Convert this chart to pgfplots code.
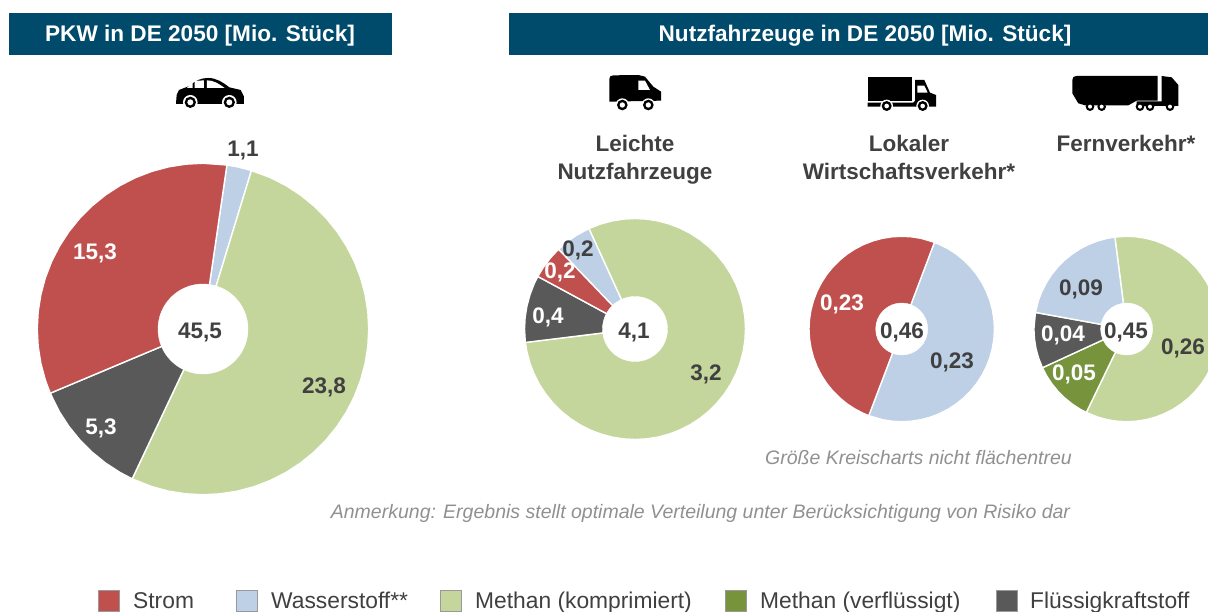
\documentclass[border=0pt]{standalone}
\usepackage{pgfplots}
\pgfplotsset{compat=1.18}
\usepackage{fontspec}
\setmainfont{Liberation Sans}
\definecolor{hdr}{HTML}{004A6C}
\definecolor{cRed}{HTML}{C0504D}
\definecolor{cBlue}{HTML}{BDD0E6}
\definecolor{cGreen}{HTML}{C4D69B}
\definecolor{cOlive}{HTML}{77933C}
\definecolor{cDark}{HTML}{595959}
\definecolor{txt}{HTML}{404040}
\definecolor{note}{HTML}{909090}
\pgfplotsset{
  pie/.style={scale only axis, hide axis, clip=false,
    width=2*#1*1.0045pt, height=2*#1*1.0045pt,
    xmin=-#1, xmax=#1, ymin=-#1, ymax=#1},
  wedge/.style={data cs=polar, fill=#1, draw=white, line width=1.4pt, line join=miter, mark=none, solid},
  hole/.style={only marks, mark=*, mark size=#1pt, mark options={fill=white, draw=white}, forget plot},
}
% value label: the y given is the centre of the digits
\newcommand{\V}[4][txt]{\node[anchor=base, text=#1, font=\fontsize{22.5}{24}\selectfont\bfseries, inner sep=0pt] at (#2,#3+8) {#4};}
\newcommand{\LG}[4]{\fill[#1, draw=gray!80, line width=.8pt] (#2,590.5) rectangle ++(21,21);
  \node[anchor=base west, text=txt, inner sep=0pt, font=\fontsize{22.8}{24}\selectfont] at (#3,608.5) {#4};}
\begin{document}
\begin{tikzpicture}[x=1pt,y=-1pt]
\path[use as bounding box] (0,0) rectangle (1208,612);
\coordinate (pA) at (203,329);
\coordinate (pB) at (635,329);
\coordinate (pC) at (901.7,329);
\coordinate (pD) at (1030.2,329);
% ---- headers
\fill[hdr] (9,13) rectangle (392,55);
\fill[hdr] (509,13) rectangle (1208,55);
\node[anchor=base,text=white,font=\fontsize{22.6}{24}\selectfont\bfseries,inner sep=0pt] at (200,41.7) {PKW in DE 2050 [Mio. Stück]};
\node[anchor=base,text=white,font=\fontsize{22.6}{24}\selectfont\bfseries,inner sep=0pt] at (865,41.7) {Nutzfahrzeuge in DE 2050 [Mio. Stück]};
% ---- PKW pie
\begin{axis}[pie=170, at={(pA)}, anchor=center]
\addplot[wedge=cBlue] coordinates {(0,0)(81.7,165)(78,165)(73,165)} --cycle;
\addplot[wedge=cGreen] coordinates {(0,0)(73,165)(66,165)(60,165)(54,165)(48,165)(42,165)(36,165)(30,165)(24,165)(18,165)(12,165)(6,165)(0,165)(-6,165)(-12,165)(-18,165)(-24,165)(-30,165)(-36,165)(-42,165)(-48,165)(-54,165)(-60,165)(-66,165)(-72,165)(-78,165)(-84,165)(-90,165)(-96,165)(-102,165)(-108,165)(-115.3,165)} --cycle;
\addplot[wedge=cDark] coordinates {(0,0)(-115.3,165)(-120,165)(-126,165)(-132,165)(-138,165)(-144,165)(-150,165)(-157.2,165)} --cycle;
\addplot[wedge=cRed] coordinates {(0,0)(-157.2,165)(-162,165)(-168,165)(-174,165)(-180,165)(-186,165)(-192,165)(-198,165)(-204,165)(-210,165)(-216,165)(-222,165)(-228,165)(-234,165)(-240,165)(-246,165)(-252,165)(-258,165)(-264,165)(-270,165)(-278.3,165)} --cycle;
\addplot[hole=45] coordinates {(0,0)};
\end{axis}
% ---- LNF pie
\begin{axis}[pie=115, at={(pB)}, anchor=center]
\addplot[wedge=cBlue] coordinates {(0,0)(133.8,110)(128,110)(122,110)(114.6,110)} --cycle;
\addplot[wedge=cGreen] coordinates {(0,0)(114.6,110)(108,110)(102,110)(96,110)(90,110)(84,110)(78,110)(72,110)(66,110)(60,110)(54,110)(48,110)(42,110)(36,110)(30,110)(24,110)(18,110)(12,110)(6,110)(0,110)(-6,110)(-12,110)(-18,110)(-24,110)(-30,110)(-36,110)(-42,110)(-48,110)(-54,110)(-60,110)(-66,110)(-72,110)(-78,110)(-84,110)(-90,110)(-96,110)(-102,110)(-108,110)(-114,110)(-120,110)(-126,110)(-132,110)(-138,110)(-144,110)(-150,110)(-156,110)(-162,110)(-168,110)(-173,110)} --cycle;
\addplot[wedge=cDark] coordinates {(0,0)(-173,110)(-180,110)(-186,110)(-192,110)(-198,110)(-204,110)(-208.4,110)} --cycle;
\addplot[wedge=cRed] coordinates {(0,0)(151.6,110)(146,110)(140,110)(133.8,110)} --cycle;
\addplot[hole=32.5] coordinates {(0,0)};
\end{axis}
% ---- Lokaler pie
\begin{axis}[pie=97, at={(pC)}, anchor=center]
\addplot[wedge=cBlue] coordinates {(0,0)(69.3,92.3)(66,92.3)(60,92.3)(54,92.3)(48,92.3)(42,92.3)(36,92.3)(30,92.3)(24,92.3)(18,92.3)(12,92.3)(6,92.3)(0,92.3)(-6,92.3)(-12,92.3)(-18,92.3)(-24,92.3)(-30,92.3)(-36,92.3)(-42,92.3)(-48,92.3)(-54,92.3)(-60,92.3)(-66,92.3)(-72,92.3)(-78,92.3)(-84,92.3)(-90,92.3)(-96,92.3)(-102,92.3)(-110.8,92.3)} --cycle;
\addplot[wedge=cRed] coordinates {(0,0)(-110.8,92.3)(-114,92.3)(-120,92.3)(-126,92.3)(-132,92.3)(-138,92.3)(-144,92.3)(-150,92.3)(-156,92.3)(-162,92.3)(-168,92.3)(-174,92.3)(-180,92.3)(-186,92.3)(-192,92.3)(-198,92.3)(-204,92.3)(-210,92.3)(-216,92.3)(-222,92.3)(-228,92.3)(-234,92.3)(-240,92.3)(-246,92.3)(-252,92.3)(-258,92.3)(-264,92.3)(-270,92.3)(-276,92.3)(-282,92.3)(-290.7,92.3)} --cycle;
\addplot[hole=26] coordinates {(0,0)};
\end{axis}
% ---- Fernverkehr pie (cut by the page edge)
\begin{axis}[scale only axis, hide axis, clip=true, width=177.8pt, height=194.9pt,
  xmin=-96, xmax=81, ymin=-97, ymax=97, at={(pD)}, anchor=west]
\addplot[wedge=cGreen] coordinates {(0,0)(97.3,92.3)(90,92.3)(84,92.3)(78,92.3)(72,92.3)(66,92.3)(60,92.3)(54,92.3)(48,92.3)(42,92.3)(36,92.3)(30,92.3)(24,92.3)(18,92.3)(12,92.3)(6,92.3)(0,92.3)(-6,92.3)(-12,92.3)(-18,92.3)(-24,92.3)(-30,92.3)(-36,92.3)(-42,92.3)(-48,92.3)(-54,92.3)(-60,92.3)(-66,92.3)(-72,92.3)(-78,92.3)(-84,92.3)(-90,92.3)(-96,92.3)(-102,92.3)(-108,92.3)(-115.8,92.3)} --cycle;
\addplot[wedge=cOlive] coordinates {(0,0)(-115.8,92.3)(-120,92.3)(-126,92.3)(-132,92.3)(-138,92.3)(-144,92.3)(-150,92.3)(-155.3,92.3)} --cycle;
\addplot[wedge=cDark] coordinates {(0,0)(-155.3,92.3)(-162,92.3)(-168,92.3)(-174,92.3)(-180,92.3)(-190.3,92.3)} --cycle;
\addplot[wedge=cBlue] coordinates {(0,0)(169.7,92.3)(162,92.3)(156,92.3)(150,92.3)(144,92.3)(138,92.3)(132,92.3)(126,92.3)(120,92.3)(114,92.3)(108,92.3)(102,92.3)(97.3,92.3)} --cycle;
\addplot[hole=26] coordinates {(0,0)};
\end{axis}
% ---- value labels
\V{243}{149}{1,1}
\V[white]{95}{252}{15,3}
\V{324}{385}{23,8}
\V[white]{101}{426}{5,3}
\V{200}{331}{45,5}
\V{578}{249}{0,2}
\V[white]{560}{271}{0,2}
\V[white]{548}{316}{0,4}
\V{634}{331}{4,1}
\V{706}{373}{3,2}
\V[white]{842}{303}{0,23}
\V{902}{331}{0,46}
\V{952}{361}{0,23}
\V{1081}{288}{0,09}
\V[white]{1063}{334}{0,04}
\V{1126}{331}{0,45}
\V[white]{1074}{373}{0,05}
\V{1183}{347}{0,26}
% ---- group titles
\V{635}{143.7}{Leichte}
\V{635}{171.3}{Nutzfahrzeuge}
\V{909}{143.7}{Lokaler}
\V{909}{171.3}{Wirtschaftsverkehr*}
\V{1126}{143.7}{Fernverkehr*}
% ---- notes
\node[anchor=base,text=note,inner sep=0pt,font=\fontsize{19.5}{20}\selectfont\itshape] at (918.5,464.5) {Größe Kreischarts nicht flächentreu};
\node[anchor=base,text=note,inner sep=0pt,font=\fontsize{19.5}{20}\selectfont\itshape] at (700.5,518.5) {Anmerkung: Ergebnis stellt optimale Verteilung unter Berücksichtigung von Risiko dar};
% ---- legend
\LG{cRed}{98}{133}{Strom}
\LG{cBlue}{236}{271}{Wasserstoff**}
\LG{cGreen}{440}{475}{Methan (komprimiert)}
\LG{cOlive}{725}{760}{Methan (verflüssigt)}
\LG{cDark}{996}{1030}{Flüssigkraftstoff}
% ---- vehicle icons
\begin{scope}[x=.3333pt,y=-.3333pt]
 % car
 \fill[black] (528,312) -- (530,285) -- (537,270) -- (568,258) .. controls (588,240) and (605,234) .. (625,234) .. controls (650,234) and (670,248) .. (688,262) -- (722,270) -- (732,290) -- (732,312) -- cycle;
 \fill[white] (561,264) -- (578,245) -- (578,264) -- cycle;
 \fill[white] (584,264) -- (584,243) -- (612,241) -- (612,264) -- cycle;
 \fill[white] (621,264) -- (621,241) .. controls (640,241) and (655,250) .. (674,264) -- cycle;
 \foreach \c in {571,688} {
  \fill[white] (\c,307) circle[radius=22];
  \fill[black] (\c,307) circle[radius=17];
  \fill[white] (\c,307) circle[radius=9];
 }
\end{scope}
\begin{scope}[shift={(600,70)},x=.3333pt,y=-.3333pt]
 % van
 \fill[black] (28,95) -- (28,27) .. controls (28,20) and (32,16) .. (40,16) -- (115,15) -- (135,20) -- (160,50) -- (183,65) -- (183,92) -- cycle;
 \fill[white] (115,32) -- (135,32) -- (150,60) -- (115,60) -- cycle;
 \foreach \c in {67,145} {
  \fill[white] (\c,105) circle[radius=20];
  \fill[black] (\c,105) circle[radius=16];
  \fill[white] (\c,105) circle[radius=8];
 }
\end{scope}
\begin{scope}[shift={(860,70)},x=.3333pt,y=-.3333pt]
 % truck
 \fill[black] (23,20) rectangle (155,92);
 \fill[black] (23,98) -- (160,98) -- (165,92) -- (165,30) -- (193,30) -- (210,68) -- (228,75) -- (228,110) -- (23,110) -- cycle;
 \fill[white] (172,47) -- (193,47) -- (203,68) -- (172,68) -- cycle;
 \foreach \c in {80,188} {
  \fill[white] (\c,108) circle[radius=19];
  \fill[black] (\c,108) circle[radius=15];
  \fill[white] (\c,108) circle[radius=7];
 }
\end{scope}
\begin{scope}[shift={(1065,70)},x=.3333pt,y=-.3333pt]
 % lorry
 \fill[black] (22,70) -- (22,30) .. controls (22,22) and (26,18) .. (34,18) -- (278,18) -- (278,92) -- (215,92) -- (190,106) -- (120,106) -- (60,106) -- (40,100) -- cycle;
 \fill[black] (290,18) -- (320,22) -- (340,45) -- (340,108) -- (215,108) -- (215,94) -- (290,94) -- cycle;
 \foreach \c in {75,110,225,255,315} {
  \fill[black] (\c,110) circle[radius=13];
  \fill[white] (\c,110) circle[radius=6];
 }
\end{scope}
\end{tikzpicture}
\end{document}
